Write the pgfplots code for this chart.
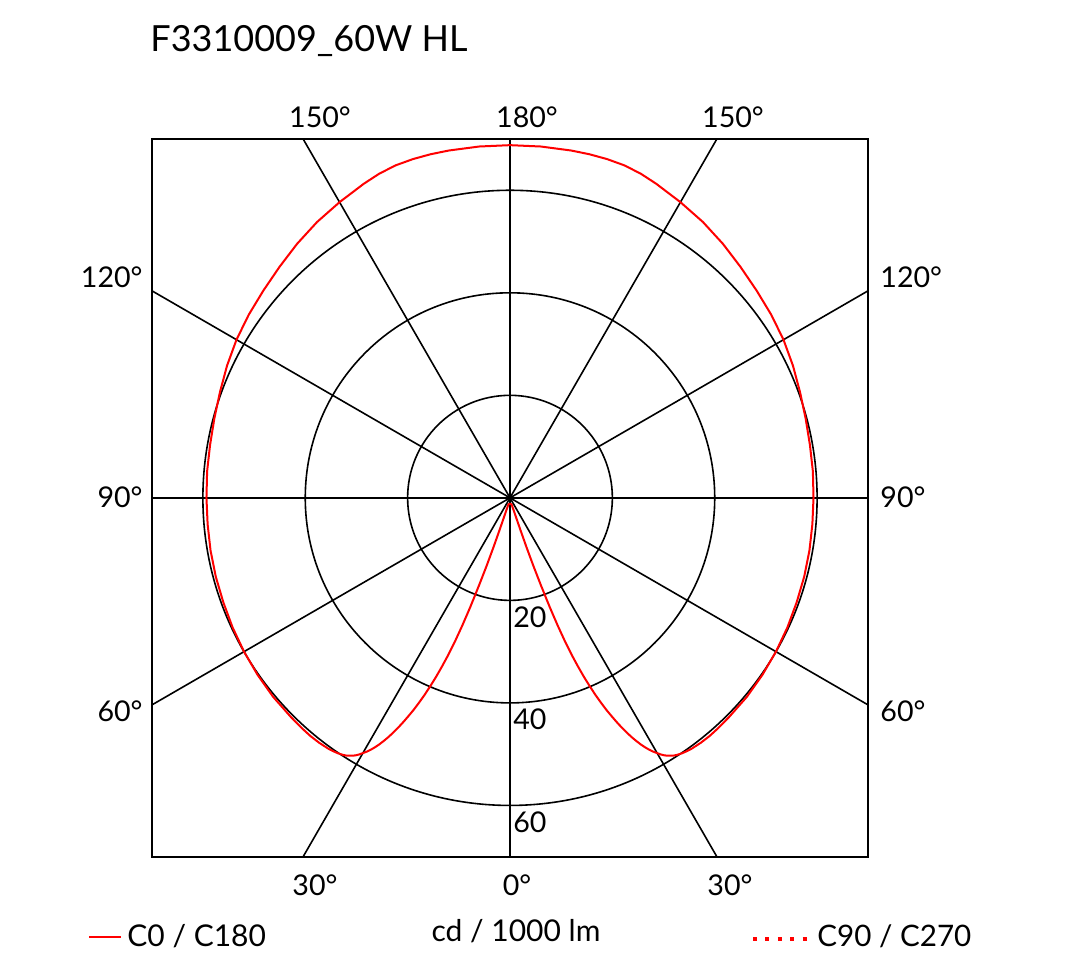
\documentclass[border=0pt]{standalone}
\usepackage{fontspec}
\setmainfont{Lato}
\usepackage{pgfplots}
\usepackage{pgfplotstable}
\pgfplotsset{compat=1.18}

% C0 / C180 : angle (deg from nadir), intensity (cd/1000 lm)
\pgfplotstableread{
a r
0 1.2
5 1.2
10 1.2
14 1.4
16 2.2
17 3.2
17.5 4.5
18 6.5
18.5 10
19 14
19.5 18
20 22.5
20.5 26.5
21 30
21.5 33
22 35.5
22.5 37.9
23 40
23.5 42
24 43.8
24.5 45.5
25 47
25.5 48.5
26 49.9
26.5 51.2
27 52.4
27.5 53.5
28 54.5
28.5 55.4
29 56.2
29.5 56.9
30 57.5
30.5 58.1
31 58.6
31.5 59
32 59.3
32.5 59.6
33 59.8
34 60.1
35 60.3
36 60.45
38 60.6
40 60.65
42 60.6
45 60.5
50 60.4
55 60.2
60 60
65 59.8
70 59.6
75 59.5
80 59.4
85 59.3
90 59.3
95 59.4
100 59.5
105 59.8
110 60.3
115 61
120 61.7
125 62.3
130 62.9
135 63.7
140 64.7
145 65.7
150 66.6
155 67.6
158 68.2
161 68.6
164 68.75
167 68.8
170 68.8
175 68.8
180 68.8
}\cdata

\begin{document}
\begin{tikzpicture}
\useasboundingbox (0,0) rectangle (537pt,-486pt);
\begin{axis}[
  at={(75.85pt,-428.35pt)}, anchor=south west,
  width=358.3pt, height=358.85pt, scale only axis,
  xmin=-70, xmax=70, ymin=-70, ymax=70,
  ticks=none,
  axis line style={line width=1pt},
  clip=true,
]
\draw[line width=0.8pt] (axis cs:0,0) circle[radius=20];
\draw[line width=0.8pt] (axis cs:0,0) circle[radius=40];
\draw[line width=0.8pt] (axis cs:0,0) circle[radius=60];
\draw[line width=0.8pt] (axis cs:-70,0) -- (axis cs:70,0);
\draw[line width=0.8pt] (axis cs:0,-70) -- (axis cs:0,70);
\draw[line width=0.8pt] (axis cs:-40.415,70) -- (axis cs:40.415,-70);
\draw[line width=0.8pt] (axis cs:40.415,70) -- (axis cs:-40.415,-70);
\draw[line width=0.8pt] (axis cs:-70,40.415) -- (axis cs:70,-40.415);
\draw[line width=0.8pt] (axis cs:-70,-40.415) -- (axis cs:70,40.415);
\addplot[red, line width=1pt, no markers, line join=round] table[x expr={-\thisrow{r}*sin(\thisrow{a})}, y expr={-\thisrow{r}*cos(\thisrow{a})}] {\cdata};
\addplot[red, line width=1pt, no markers, line join=round] table[x expr={\thisrow{r}*sin(\thisrow{a})}, y expr={-\thisrow{r}*cos(\thisrow{a})}] {\cdata};
\end{axis}
\begin{scope}[x=0.5pt, y=-0.5pt, font=\fontsize{14.3}{17}\selectfont]
\node[anchor=base west, font=\fontsize{18}{21}\selectfont, inner sep=0pt] at (150,52) {F3310009\_60W HL};
\node[anchor=base, inner sep=0pt] at (320,128) {150°};
\node[anchor=base, inner sep=0pt] at (527,128) {180°};
\node[anchor=base, inner sep=0pt] at (733,128) {150°};
\node[anchor=base, inner sep=0pt] at (315,895) {30°};
\node[anchor=base, inner sep=0pt] at (517,895) {0°};
\node[anchor=base, inner sep=0pt] at (730,895) {30°};
\node[anchor=base east, inner sep=0pt] at (143,288) {120°};
\node[anchor=base east, inner sep=0pt] at (143,507) {90°};
\node[anchor=base east, inner sep=0pt] at (143,721) {60°};
\node[anchor=base west, inner sep=0pt] at (880,288) {120°};
\node[anchor=base west, inner sep=0pt] at (880,507) {90°};
\node[anchor=base west, inner sep=0pt] at (880,721) {60°};
\node[anchor=base west, inner sep=0pt] at (513,627) {20};
\node[anchor=base west, inner sep=0pt] at (513,729) {40};
\node[anchor=base west, inner sep=0pt] at (513,832) {60};
\draw[red, line width=1pt] (89,937) -- (121,937);
\node[anchor=base west, inner sep=0pt, font=\fontsize{15}{18}\selectfont] at (127,946) {C0 / C180};
\node[anchor=base, inner sep=0pt, font=\fontsize{15}{18}\selectfont] at (516,941) {cd / 1000 lm};
\draw[red, line width=1.6pt, dash pattern=on 2pt off 4.2pt] (753,939) -- (810,939);
\node[anchor=base west, inner sep=0pt, font=\fontsize{14.8}{18}\selectfont] at (817,946) {C90 / C270};
\end{scope}
\end{tikzpicture}
\end{document}
